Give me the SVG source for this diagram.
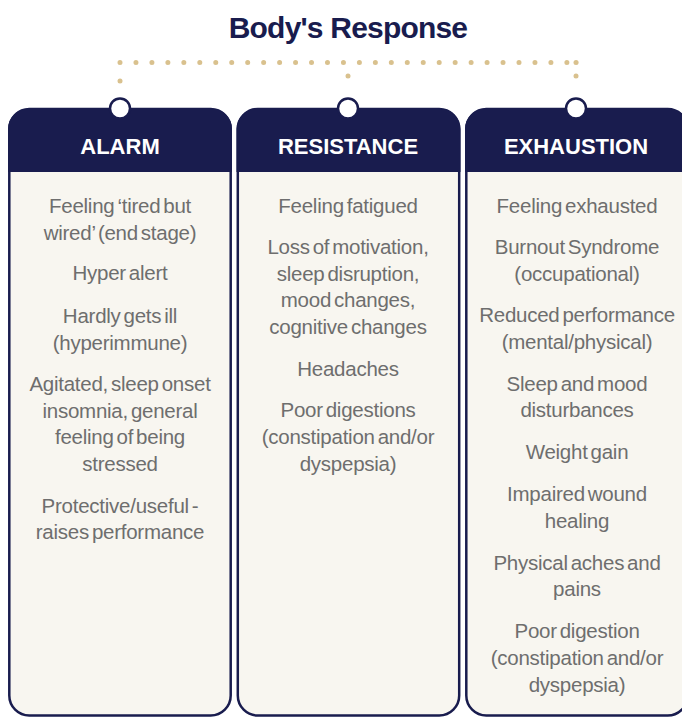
<svg xmlns="http://www.w3.org/2000/svg" width="682" height="718" viewBox="0 0 682 718">
  <style>
    .title { font-family: "Liberation Sans", Arial, sans-serif; font-weight: bold; font-size: 30px; fill: #191c4e; letter-spacing: -0.8px; }
    .head { font-family: "Liberation Sans", Arial, sans-serif; font-weight: bold; font-size: 22px; fill: #ffffff; }
    .body { fill: #f8f6f0; stroke: #191c4e; stroke-width: 2.5; }
    .hdr { fill: #191c4e; }
    .pin { fill: #ffffff; stroke: #191c4e; stroke-width: 2.5; }
    .txt { font-family: "Liberation Sans", Arial, sans-serif; font-size: 20.5px; fill: #6e6e6e; letter-spacing: -0.25px; word-spacing: -2.5px; }
    .dots { fill: none; stroke: #d9c18e; stroke-width: 5; stroke-linecap: round; }
  </style>
  <rect width="682" height="718" fill="#ffffff"/>
  <text class="title" x="348" y="38" text-anchor="middle">Body's Response</text>

  <g id="connectors">
    <path class="dots" d="M120 62.5 H567" stroke-dasharray="0 15.96"/>
    <path class="dots" d="M576 62.5 H576.1"/>
    <path class="dots" d="M120 81 V81.1"/>
    <path class="dots" d="M348 76 V89.5" stroke-dasharray="0 13.5"/>
    <path class="dots" d="M576 76 V89.5" stroke-dasharray="0 13.5"/>
  </g>

  <g id="alarm">
    <rect class="body" x="9.3" y="109" width="221.4" height="606.5" rx="20"/>
    <path class="hdr" d="M8 172 V129 A20 20 0 0 1 28 109 H212 A20 20 0 0 1 232 129 V172 Z"/>
    <circle class="pin" cx="120" cy="108.5" r="10"/>
    <text class="head" x="120" y="154" text-anchor="middle">ALARM</text>
    <g class="txt" text-anchor="middle">
      <text x="120" y="213">Feeling ‘tired but</text>
      <text x="120" y="240">wired’ (end stage)</text>
      <text x="120" y="280">Hyper alert</text>
      <text x="120" y="323">Hardly gets ill</text>
      <text x="120" y="350">(hyperimmune)</text>
      <text x="120" y="391">Agitated, sleep onset</text>
      <text x="120" y="418">insomnia, general</text>
      <text x="120" y="444">feeling of being</text>
      <text x="120" y="471">stressed</text>
      <text x="120" y="513">Protective/useful -</text>
      <text x="120" y="539">raises performance</text>
    </g>
  </g>

  <g id="resistance">
    <rect class="body" x="237.8" y="109" width="221.4" height="606.5" rx="20"/>
    <path class="hdr" d="M236.5 172 V129 A20 20 0 0 1 256.5 109 H440.5 A20 20 0 0 1 460.5 129 V172 Z"/>
    <circle class="pin" cx="348" cy="108.5" r="10"/>
    <text class="head" x="348" y="154" text-anchor="middle">RESISTANCE</text>
    <g class="txt" text-anchor="middle">
      <text x="348" y="213">Feeling fatigued</text>
      <text x="348" y="254">Loss of motivation,</text>
      <text x="348" y="281">sleep disruption,</text>
      <text x="348" y="307">mood changes,</text>
      <text x="348" y="334">cognitive changes</text>
      <text x="348" y="376">Headaches</text>
      <text x="348" y="417">Poor digestions</text>
      <text x="348" y="444">(constipation and/or</text>
      <text x="348" y="471">dyspepsia)</text>
    </g>
  </g>

  <g id="exhaustion">
    <rect class="body" x="466.3" y="109" width="221.4" height="606.5" rx="20"/>
    <path class="hdr" d="M465 172 V129 A20 20 0 0 1 485 109 H669 A20 20 0 0 1 689 129 V172 Z"/>
    <circle class="pin" cx="576" cy="108.5" r="10"/>
    <text class="head" x="576" y="154" text-anchor="middle">EXHAUSTION</text>
    <g class="txt" text-anchor="middle">
      <text x="577" y="213">Feeling exhausted</text>
      <text x="577" y="254">Burnout Syndrome</text>
      <text x="577" y="281">(occupational)</text>
      <text x="577" y="322">Reduced performance</text>
      <text x="577" y="349">(mental/physical)</text>
      <text x="577" y="391">Sleep and mood</text>
      <text x="577" y="417">disturbances</text>
      <text x="577" y="459">Weight gain</text>
      <text x="577" y="501">Impaired wound</text>
      <text x="577" y="528">healing</text>
      <text x="577" y="570">Physical aches and</text>
      <text x="577" y="596">pains</text>
      <text x="577" y="638">Poor digestion</text>
      <text x="577" y="665">(constipation and/or</text>
      <text x="577" y="692">dyspepsia)</text>
    </g>
  </g>
</svg>
